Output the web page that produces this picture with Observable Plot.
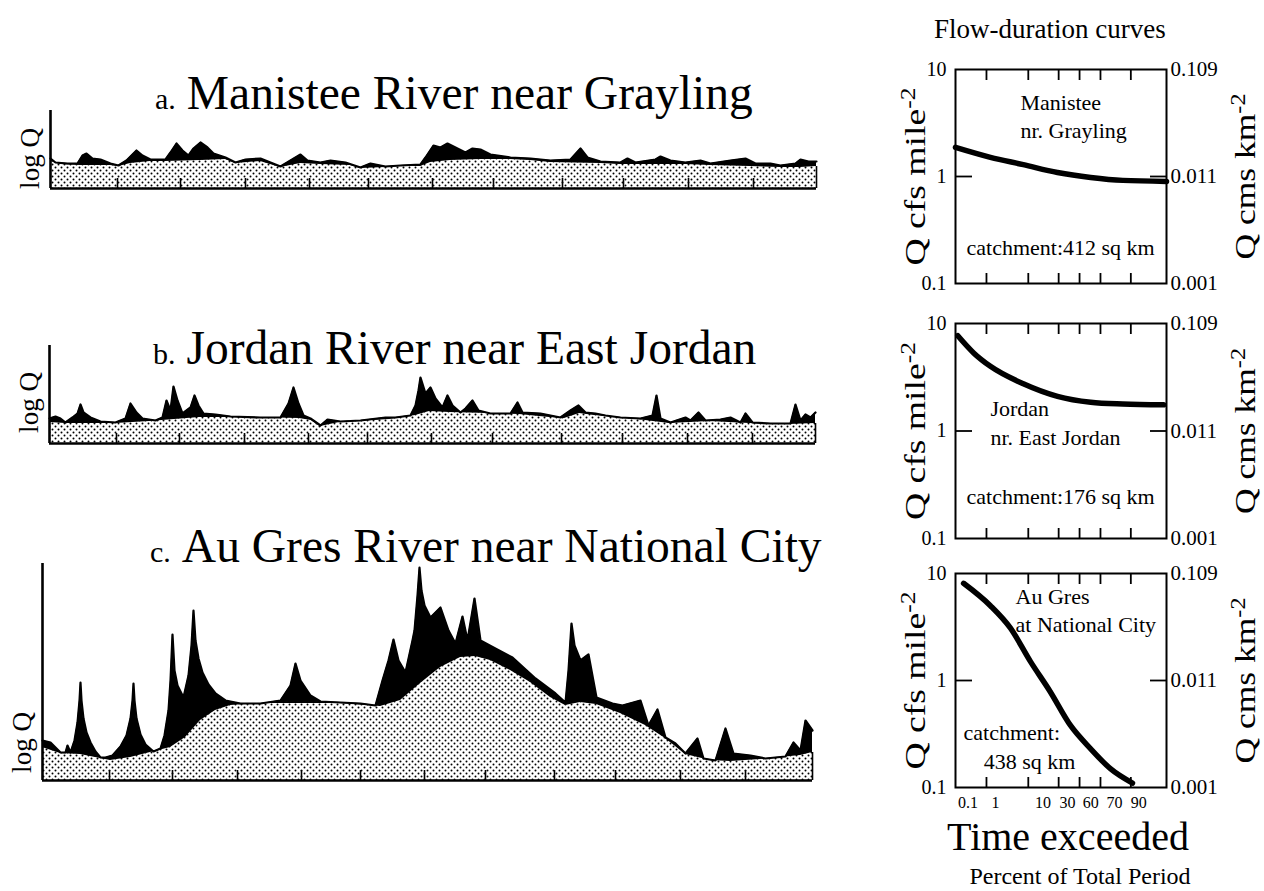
<!DOCTYPE html>
<html>
<head>
<meta charset="utf-8">
<script src="https://cdn.jsdelivr.net/npm/d3@7"></script>
<script src="https://cdn.jsdelivr.net/npm/@observablehq/plot@0.6"></script>
<style>
  body { margin: 0; background: #fff; }
  #root { position: relative; width: 1264px; height: 891px; overflow: hidden; background: #fff; font-family: "Liberation Serif", serif; }
  #root .panel { position: absolute; }
  #root svg { overflow: visible; }
</style>
</head>
<body>
<svg width="0" height="0" style="position:absolute">
  <defs>
    <pattern id="stipple" width="6" height="6" patternUnits="userSpaceOnUse">
      <rect width="6" height="6" fill="white"/>
      <circle cx="1.5" cy="1.5" r="1" fill="black"/>
      <circle cx="4.5" cy="4.5" r="1" fill="black"/>
    </pattern>
  </defs>
</svg>
<div id="root"></div>
<script>
// ---------------- Hydrographs (time along record, relative log Q above axis) ----------------
const monthTicks = [67, 130, 195, 259, 318, 382, 443, 512, 573, 638, 703];

const manisteeTime = [0,5,17,27,32,36,42,50,60,68,76,86,92,100,115,120,126,132,138,143,150,157,163,175,185,195,210,230,240,250,257,270,280,295,310,320,335,350,370,375,383,390,397,405,415,422,430,440,460,480,500,520,530,537,550,570,577,585,605,610,620,635,650,660,680,695,705,720,730,745,750,758,766];
const manisteeFlow = [30,26,25,25,33,35,30,29,25,23,28,38,33,29,29,36,45,38,33,40,46,41,35,31,26,29,30,22,28,34,28,26,28,26,21,25,22,23,24,31,43,41,45,41,36,40,39,34,31,30,28,29,40,31,27,26,30,26,29,32,28,26,28,25,28,30,25,25,23,25,29,27,27];
const manisteeBaseTime = [0,10,30,60,68,80,100,115,150,175,185,210,230,250,270,300,310,335,350,370,380,400,430,460,480,500,550,570,600,635,660,700,730,750,766];
const manisteeBase = [27,24,23,23,22,25,27,27,28,29,25,27,21,25,24,23,20,21,22,22,26,28,29,29,28,26,25,24,24,24,23,22,21,21,22];

const jordanTime = [0,6,11,16,23,28,31,34,41,51,66,76,81,87,93,106,113,117,121,124,128,133,141,145,149,154,166,181,211,231,239,244,249,254,261,271,278,291,311,336,346,361,366,369,371,376,381,386,393,398,403,411,416,423,429,441,461,468,473,491,511,521,529,536,546,556,571,591,603,607,611,621,636,641,649,656,671,681,691,696,703,721,741,746,751,756,761,766];
const jordanFlow = [25,27,25,21,26,30,39,31,26,22,21,25,40,31,25,23,26,43,33,57,43,30,36,48,38,30,29,27,26,26,40,56,40,28,25,18,24,22,23,26,26,28,38,53,66,50,56,45,36,48,38,31,35,43,33,30,30,41,31,30,26,33,38,31,30,28,26,25,28,48,25,21,26,23,31,23,24,26,21,30,21,20,20,39,23,29,26,31];
const jordanBaseTime = [0,16,66,100,150,200,250,262,271,290,340,366,380,400,440,470,500,515,530,545,580,620,660,700,740,766];
const jordanBase = [21,20,20,22,26,26,25,23,17,21,24,28,32,31,30,29,26,25,30,28,25,20,22,20,19,20];

const auGresTime = [0,8,18,23,25,28,32,35,37,38,39,41,44,48,53,58,63,70,78,84,88,90,91,92,94,98,103,111,118,122,126,128,130,132,135,141,146,149,151,153,156,160,166,173,183,198,218,238,248,253,258,268,278,298,318,333,340,346,351,356,363,370,372,375,377,379,382,388,398,406,413,420,425,432,438,451,470,493,513,523,526,529,532,538,546,554,570,580,598,606,615,623,633,643,655,661,673,683,691,708,723,743,751,758,763,770];
const auGresFlow = [40,38,28,28,35,28,40,58,80,98,80,62,48,38,29,23,23,25,34,45,62,80,97,80,62,46,36,29,32,45,70,100,146,110,95,83,105,135,170,140,122,108,96,87,80,77,77,80,95,117,100,85,79,78,77,75,100,120,141,120,108,140,150,185,213,190,175,163,173,150,137,164,140,182,140,133,123,102,87,78,110,157,135,120,126,83,77,75,80,55,71,43,37,27,42,22,20,52,27,25,22,24,38,30,60,50];
const auGresBaseTime = [0,18,38,58,68,88,108,128,143,158,173,188,218,258,298,338,358,378,398,418,433,448,468,488,508,523,538,554,578,603,623,643,668,688,718,738,758,770];
const auGresBase = [33,27,26,22,20,23,28,33,43,60,70,75,77,77,77,74,80,97,113,123,124,120,110,98,83,75,78,76,67,55,42,26,20,19,21,23,25,28];

// ---------------- Flow-duration curves (percent of time exceeded, Q cfs per sq mile) ----------------
const durationTicks = [1, 10, 30, 50, 70, 90];
const durationLabels = ["0.1", "1", "10", "30", "60", "70", "90"];
const durationLabelAt = [0.25, 1.8, 18, 38, 61, 81, 93];
const qTicks = [0.1, 1, 10];
const qCmsLabels = ["0.001", "0.011", "0.109"];

const manisteeExceed = [0.08, 1.3, 8, 29, 61, 86, 98.5];
const manisteeQ = [1.87, 1.51, 1.29, 1.09, 0.98, 0.92, 0.9];
const jordanExceed = [0.1, 0.4, 1.3, 8, 29, 61, 86, 98.2];
const jordanQ = [7.7, 5.3, 4.0, 2.75, 2.1, 1.85, 1.78, 1.75];
const auGresExceed = [0.17, 1.3, 4.2, 11, 23, 41, 61, 78, 90.7];
const auGresQ = [8.1, 5.0, 3.1, 1.5, 0.79, 0.38, 0.23, 0.15, 0.11];

// ---------------- helpers ----------------
// normal-probability (probit) position of a percentage, for the probability axis
function probit(pct) {
  const p = pct / 100;
  return 4.91 * (Math.pow(p, 0.14) - Math.pow(1 - p, 0.14));
}

const root = document.getElementById("root");
const SERIF = "'Liberation Serif', 'Times New Roman', serif";

function place(node, left, top) {
  const div = document.createElement("div");
  div.className = "panel";
  div.style.left = left + "px";
  div.style.top = top + "px";
  div.appendChild(node);
  root.appendChild(div);
  return node;
}

function superscripts(svg) {
  d3.select(svg).selectAll("text").each(function () {
    const s = this.textContent;
    const k = s.indexOf("^");
    if (k < 0) return;
    this.textContent = "";
    const ns = "http://www.w3.org/2000/svg";
    const a = document.createElementNS(ns, "tspan");
    a.textContent = s.slice(0, k);
    const b = document.createElementNS(ns, "tspan");
    b.textContent = s.slice(k + 1);
    b.setAttribute("dy", "-0.5em");
    b.setAttribute("font-size", "0.68em");
    this.append(a, b);
  });
}

function hydrograph({time, flow, baseTime, base, xMax, yMax, marginLeft, marginRight, labelAt}) {
  const flowData = time.map((t, i) => ({t, q: flow[i]}));
  const baseData = baseTime.map((t, i) => ({t, q: base[i]}));
  return Plot.plot({
    width: 830,
    height: yMax + 14,
    marginTop: 10,
    marginBottom: 4,
    marginLeft,
    marginRight,
    style: {fontFamily: SERIF, background: "transparent", overflow: "visible"},
    x: {domain: [0, xMax], axis: null},
    y: {domain: [0, yMax], axis: null},
    marks: [
      Plot.areaY(flowData, {x: "t", y: "q", fill: "black"}),
      Plot.areaY(baseData, {x: "t", y: "q", fill: "url(#stipple)"}),
      Plot.lineY(flowData, {x: "t", y: "q", stroke: "black", strokeWidth: 2.2, strokeLinejoin: "round"}),
      Plot.ruleX(monthTicks, {y1: 0, y2: 10, stroke: "black", strokeWidth: 1.6}),
      Plot.ruleX([xMax], {y1: 0, y2: base[base.length - 1], stroke: "black", strokeWidth: 1.6}),
      Plot.ruleX([0], {stroke: "black", strokeWidth: 2.6}),
      Plot.ruleY([0], {stroke: "black", strokeWidth: 2.6}),
      Plot.text(["log Q"], {x: 0, y: labelAt, dx: -20, rotate: -90, fontSize: 27, fill: "black"})
    ]
  });
}

function flowPanel({exceed, q, height, marginBottom, notes, xLabels}) {
  const data = exceed.map((p, i) => ({p, q: q[i]}));
  const tickZ = durationTicks.map(probit);
  const labelZ = durationLabelAt.map(probit);
  const labelMap = new Map(labelZ.map((z, i) => [z, durationLabels[i]]));
  const cmsMap = new Map(qTicks.map((t, i) => [t, qCmsLabels[i]]));
  const svg = Plot.plot({
    width: 384,
    height,
    marginTop: 20,
    marginBottom,
    marginLeft: 75,
    marginRight: 98,
    style: {fontFamily: SERIF, fontSize: "20px", color: "black", background: "transparent", overflow: "visible"},
    x: {domain: [probit(0.08), probit(98.5)], label: null},
    y: {type: "log", domain: [0.1, 10], label: null},
    marks: [
      Plot.axisX(tickZ, {anchor: "bottom", tickSize: 10, dy: -10, tickFormat: () => "", strokeWidth: 1.8, label: null}),
      Plot.axisX(tickZ, {anchor: "top", tickSize: 10, dy: 10, tickFormat: () => "", strokeWidth: 1.8, label: null}),
      Plot.axisY([1], {anchor: "left", tickSize: 17, dx: 17, tickFormat: () => "", strokeWidth: 1.8, label: null}),
      Plot.axisY([1], {anchor: "right", tickSize: 17, dx: -17, tickFormat: () => "", strokeWidth: 1.8, label: null}),
      Plot.axisY(qTicks, {anchor: "left", tickSize: 0, tickPadding: 9, tickFormat: d => String(d), fontSize: 20, label: null}),
      Plot.axisY(qTicks, {anchor: "right", tickSize: 0, tickPadding: 4, tickFormat: d => cmsMap.get(d), fontSize: 21, label: null}),
      xLabels ? Plot.axisX(labelZ, {anchor: "bottom", tickSize: 0, tickPadding: 9, tickFormat: d => labelMap.get(d), fontSize: 16, label: null}) : null,
      Plot.frame({stroke: "black", strokeWidth: 2}),
      Plot.line(data, {x: d => probit(d.p), y: "q", stroke: "black", strokeWidth: 5.5, curve: "monotone-x"}),
      Plot.text(notes.filter(d => d.anchor === "start"), {x: d => probit(d.p), y: "q", text: "text", textAnchor: "start", lineAnchor: "bottom", fontSize: 22, fill: "black"}),
      Plot.text(notes.filter(d => d.anchor === "middle"), {x: d => probit(d.p), y: "q", text: "text", textAnchor: "middle", lineAnchor: "bottom", fontSize: 22, fill: "black"}),
      Plot.text(["Q cfs mile^-2"], {frameAnchor: "left", textAnchor: "middle", dx: -40, rotate: -90, fontSize: 30, fill: "black", className: "unit-left"}),
      Plot.text(["Q cms km^-2"], {frameAnchor: "right", textAnchor: "middle", dx: 79, rotate: -90, fontSize: 30, fill: "black", className: "unit-right"})
    ]
  });
  superscripts(svg);
  return svg;
}

function stretchUnits(svg) {
  d3.select(svg).selectAll(".unit-left text").attr("textLength", 178).attr("lengthAdjust", "spacingAndGlyphs");
  d3.select(svg).selectAll(".unit-right text").attr("textLength", 166).attr("lengthAdjust", "spacingAndGlyphs");
}

// ---------------- draw ----------------
place(hydrograph({time: manisteeTime, flow: manisteeFlow, baseTime: manisteeBaseTime, base: manisteeBase, xMax: 766, yMax: 78, marginLeft: 50, marginRight: 14, labelAt: 30}), 0, 100);
place(hydrograph({time: jordanTime, flow: jordanFlow, baseTime: jordanBaseTime, base: jordanBase, xMax: 766, yMax: 98, marginLeft: 49, marginRight: 15, labelAt: 41}), 0, 335);
place(hydrograph({time: auGresTime, flow: auGresFlow, baseTime: auGresBaseTime, base: auGresBase, xMax: 770, yMax: 217, marginLeft: 42, marginRight: 18, labelAt: 38}), 0, 553);

stretchUnits(place(flowPanel({exceed: manisteeExceed, q: manisteeQ, height: 254, marginBottom: 20, xLabels: false, notes: [
  {p: 7, q: 4.14, text: "Manistee", anchor: "start"},
  {p: 7, q: 2.31, text: "nr. Grayling", anchor: "start"},
  {p: 31.7, q: 0.183, text: "catchment:412 sq km", anchor: "middle"}
]}), 880, 49));
stretchUnits(place(flowPanel({exceed: jordanExceed, q: jordanQ, height: 255, marginBottom: 20, xLabels: false, notes: [
  {p: 1.3, q: 1.38, text: "Jordan", anchor: "start"},
  {p: 1.3, q: 0.74, text: "nr. East Jordan", anchor: "start"},
  {p: 31.7, q: 0.21, text: "catchment:176 sq km", anchor: "middle"}
]}), 880, 303));
stretchUnits(place(flowPanel({exceed: auGresExceed, q: auGresQ, height: 264, marginBottom: 30, xLabels: true, notes: [
  {p: 5.5, q: 5.24, text: "Au Gres", anchor: "start"},
  {p: 5.5, q: 2.87, text: "at National City", anchor: "start"},
  {p: 0.17, q: 0.275, text: "catchment:", anchor: "start"},
  {p: 10.6, q: 0.15, text: "438 sq km", anchor: "middle"}
]}), 880, 553));

// ---------------- titles ----------------
const overlay = d3.select(root).append("svg")
  .attr("width", 1264).attr("height", 891)
  .style("position", "absolute").style("left", 0).style("top", 0)
  .style("pointer-events", "none")
  .attr("font-family", SERIF).attr("fill", "black");

const titles = [
  {x: 155, y: 109, letter: "a.", text: "Manistee River near Grayling"},
  {x: 153, y: 364, letter: "b.", text: "Jordan River near East Jordan"},
  {x: 150, y: 562, letter: "c.", text: "Au Gres River near National City"}
];
titles.forEach(t => {
  const el = overlay.append("text").attr("x", t.x).attr("y", t.y);
  el.append("tspan").attr("font-size", 30).text(t.letter);
  el.append("tspan").attr("font-size", 47.5).attr("dx", 11).text(t.text);
});
overlay.append("text").attr("x", 934).attr("y", 38).attr("font-size", 27).text("Flow-duration curves");
overlay.append("text").attr("x", 1068).attr("y", 850).attr("font-size", 40).attr("text-anchor", "middle").text("Time exceeded");
overlay.append("text").attr("x", 1080).attr("y", 884).attr("font-size", 24).attr("text-anchor", "middle").text("Percent of Total Period");
</script>
</body>
</html>
